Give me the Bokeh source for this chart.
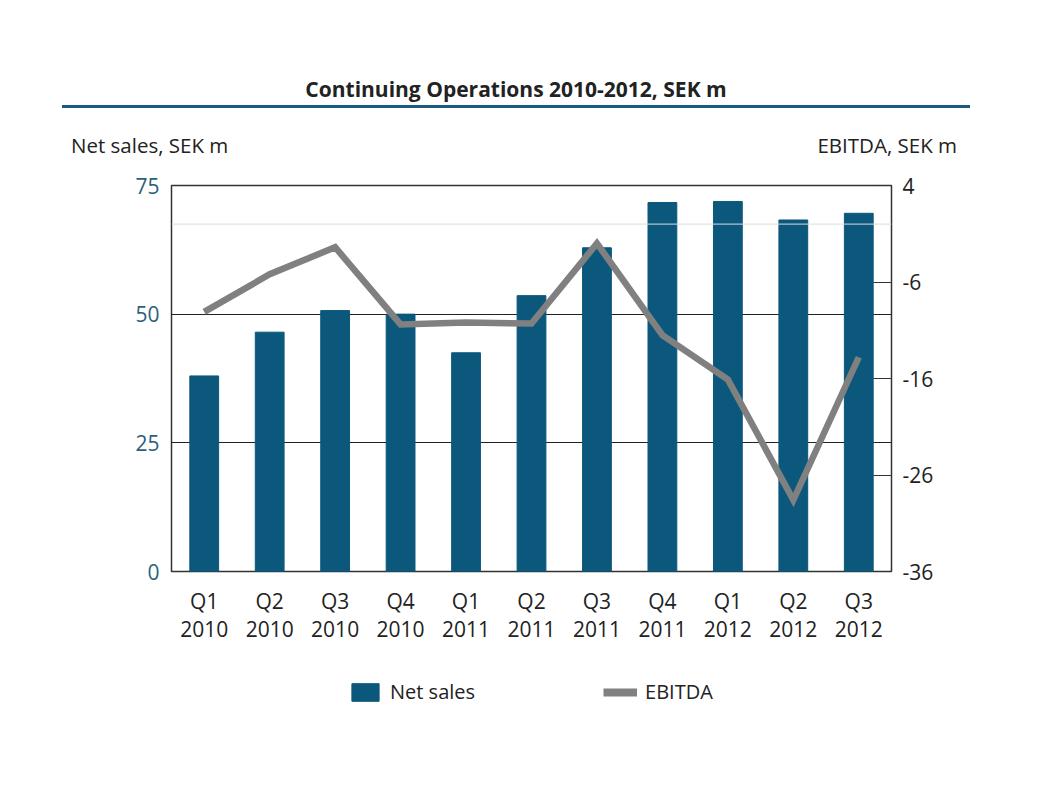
from bokeh.plotting import figure
from bokeh.layouts import column
from bokeh.models import (FactorRange, Range1d, LinearAxis, FixedTicker,
                          Legend, LegendItem, Span, Div)
from bokeh.embed import file_html
from bokeh.resources import INLINE

quarters = ["Q1\n2010", "Q2\n2010", "Q3\n2010", "Q4\n2010",
            "Q1\n2011", "Q2\n2011", "Q3\n2011", "Q4\n2011",
            "Q1\n2012", "Q2\n2012", "Q3\n2012"]
net_sales = [38.0, 46.5, 50.7, 50.0, 42.5, 53.6, 62.9, 71.7, 71.9, 68.3, 69.6]
ebitda = [-9.1, -5.2, -2.4, -10.4, -10.2, -10.3, -2.0, -11.5, -16.1, -28.6, -13.8]
left_ticks = [0, 25, 50, 75]
right_ticks = [-36, -26, -16, -6, 4]
title_text = "Continuing Operations 2010-2012, SEK m"
left_title = "Net sales, SEK m"
right_title = "EBITDA, SEK m"
series_names = ["Net sales", "EBITDA"]

FONT = "Open Sans"
BLUE = "#0b587c"
GREY = "#808080"
W = 1040
H_HEAD = 170
H_MAIN = 490
H_LEG = 70

# ---- header (title, rule, axis titles) ----
head_html = f"""
<div style="position:relative;width:{W}px;height:{H_HEAD}px;font-family:'{FONT}';color:#222222;">
  <div style="position:absolute;left:0;width:1032px;top:75px;text-align:center;
              font-size:21px;font-weight:bold;line-height:28px;">{title_text}</div>
  <div style="position:absolute;left:62px;top:105px;width:908px;height:3px;background:#1b5a80;"></div>
  <div style="position:absolute;left:71px;top:131px;font-size:20.5px;line-height:28px;">{left_title}</div>
  <div style="position:absolute;right:{W - 957}px;top:131px;font-size:20.5px;line-height:28px;
              text-align:right;">{right_title}</div>
</div>
"""
head = Div(text=head_html, width=W, height=H_HEAD, margin=0)

# ---- main chart ----
p = figure(width=W, height=H_MAIN, x_range=FactorRange(factors=quarters),
           y_range=Range1d(0, 75), output_backend="svg", toolbar_location=None,
           min_border_left=171, min_border_right=W - 891,
           min_border_top=185 - H_HEAD, min_border_bottom=H_HEAD + H_MAIN - 571)
p.extra_y_ranges = {"ebitda": Range1d(-36, 4)}

p.outline_line_color = "#333333"
p.outline_line_width = 1.5
p.outline_line_alpha = 1.0

bars = p.vbar(x=quarters, top=net_sales, width=0.44, color=BLUE)
p.add_layout(Span(location=0, dimension="width", y_range_name="ebitda",
                  line_color="#dcdcdc", line_width=1))
line = p.line(x=quarters, y=ebitda, y_range_name="ebitda", line_width=6.5,
              color=GREY, line_join="miter")

p.xgrid.visible = False
p.ygrid.ticker = FixedTicker(ticks=left_ticks)
p.ygrid.grid_line_color = "#222222"
p.ygrid.grid_line_width = 1
p.ygrid.level = "underlay"

ya = p.yaxis[0]
ya.ticker = FixedTicker(ticks=left_ticks)
ya.axis_line_color = None
ya.major_tick_line_color = None
ya.minor_tick_line_color = None
ya.major_label_text_font = FONT
ya.major_label_text_font_size = "21px"
ya.major_label_text_color = "#2c5f7c"
ya.major_label_standoff = 6

ra = LinearAxis(y_range_name="ebitda", ticker=FixedTicker(ticks=right_ticks))
ra.major_label_overrides = {t: str(t) for t in right_ticks}
ra.axis_line_color = None
ra.major_tick_in = 18
ra.major_tick_out = 0
ra.major_tick_line_color = "#333333"
ra.minor_tick_line_color = None
ra.major_label_text_font = FONT
ra.major_label_text_font_size = "21px"
ra.major_label_text_color = "#222222"
ra.major_label_standoff = 11
p.add_layout(ra, "right")

xa = p.xaxis[0]
xa.axis_line_color = None
xa.major_tick_line_color = None
xa.minor_tick_line_color = None
xa.major_label_text_font = FONT
xa.major_label_text_font_size = "21px"
xa.major_label_text_color = "#222222"
xa.major_label_text_line_height = 1.0
xa.major_label_standoff = 9

# ---- legend strip (swatch glyphs kept outside the visible range) ----
lg = figure(width=W, height=H_LEG, x_range=Range1d(0, 1), y_range=Range1d(0, 1),
            output_backend="svg", toolbar_location=None, min_border=0)
lg.axis.visible = False
lg.grid.visible = False
lg.outline_line_color = None
lbar = lg.vbar(x=[-5], top=[-5], bottom=[-6], width=0.5, color=BLUE)
lline = lg.line(x=[-6, -5], y=[-5, -5], line_width=8, color=GREY)
legend = Legend(items=[LegendItem(label=series_names[0], renderers=[lbar]),
                       LegendItem(label=series_names[1], renderers=[lline])],
                orientation="horizontal", location=(177, 25),
                glyph_width=34, glyph_height=22, spacing=128, label_standoff=8,
                label_text_font=FONT, label_text_font_size="20px",
                label_text_color="#222222", border_line_color=None,
                background_fill_alpha=0, padding=0, margin=0)
lg.add_layout(legend, "center")

open("out.html", "w").write(file_html(column(head, p, lg, spacing=0), INLINE))
